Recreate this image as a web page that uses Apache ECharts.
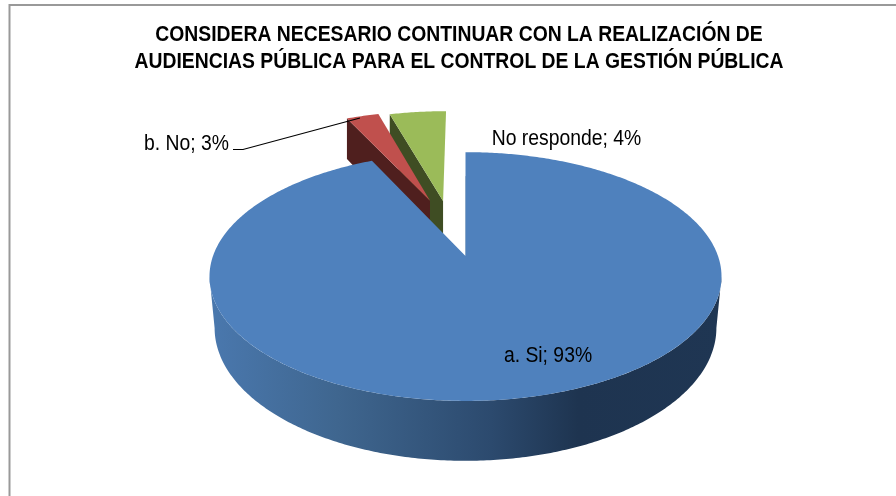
<!DOCTYPE html>
<html><head><meta charset="utf-8">
<style>html,body{margin:0;padding:0;background:#fff}#c{width:896px;height:496px}</style>
<script src="https://cdn.jsdelivr.net/npm/echarts@6/dist/echarts.min.js"></script>
</head><body><div id="c"></div>
<script>
const titleLines = ["CONSIDERA NECESARIO CONTINUAR CON LA REALIZACIÓN DE", "AUDIENCIAS PÚBLICA PARA EL CONTROL DE LA GESTIÓN PÚBLICA"];
const categories = ["a. Si", "b. No", "No responde"];
const values = [93, 2.55, 4.45];

const FONT = '"Liberation Sans",Arial,sans-serif';
// projection of the pie disc (unit circle) onto the screen, with perspective
const AX = 465.5, AY = 256, RX = 252.5, RY = 121, K = 0.165, DEPTH = 50;
const looks = [
  { top:'#4F81BD', wall:'#1F3552', off:[0,0], z:3, shrink:0.02,
    grad:[[0,'#4A78AE'],[0.25,'#3F668F'],[0.55,'#2C4A6E'],[0.72,'#1E3450'],[1,'#1F3653']],
    label:{x:548,y:356}},
  { top:'#C0504D', wall:'#4F1F1E', off:[-0.152,-0.494], z:2, shrink:0, label:{x:186.5,y:144}},
  { top:'#9BBB59', wall:'#3F4D23', off:[-0.096,-0.491], z:1, shrink:0, label:{x:566.5,y:139}}
];
function proj(u, v, low, shrink) {
  const w = 1 - K * v;
  const t = low ? 1 : 0;
  return [AX + RX * u * (1 - shrink * t) / w, AY + (RY * v + DEPTH * t) / w];
}
function rim(a0, a1, off, low, shrink) {
  const pts = [], n = Math.max(2, Math.ceil((a1 - a0) * 90));
  for (let i = 0; i <= n; i++) {
    const a = a0 + (a1 - a0) * i / n;
    pts.push(proj(off[0] + Math.sin(a), off[1] - Math.cos(a), low, shrink));
  }
  return pts;
}
const total = values.reduce((s, x) => s + x, 0);
function renderSlice(params, api) {
  const i = params.dataIndex, look = looks[i];
  let acc = 0;
  for (let j = 0; j < i; j++) acc += values[j];
  const v = api.value(0);
  const a0 = acc / total * 2 * Math.PI, a1 = (acc + v) / total * 2 * Math.PI;
  const off = look.off, sh = look.shrink;
  const apexT = proj(off[0], off[1], false, sh), apexB = proj(off[0], off[1], true, sh);
  const rT = rim(a0, a1, off, false, sh), rB = rim(a0, a1, off, true, sh);
  const children = [];
  if (i === 0) {
    // front of the cylinder wall: between the two points where the rim turns back
    const turn = Math.acos(K);               // angle from the horizontal axis
    const fa0 = Math.PI / 2 + (Math.PI / 2 - turn), fa1 = 2 * Math.PI - fa0;
    const fT = rim(fa0, fa1, off, false, sh), fB = rim(fa0, fa1, off, true, sh);
    children.push({ type:'polygon', z2:look.z,
      shape:{ points: fT.concat(fB.slice().reverse()) },
      style:{ fill:{ type:'linear', x:0, y:0, x2:1, y2:0,
        colorStops: look.grad.map(g => ({offset:g[0], color:g[1]})) } } });
  } else {
    // radial wall of the exploded slices
    children.push({ type:'polygon', z2:look.z,
      shape:{ points:[apexT, rT[0], rB[0], apexB] }, style:{ fill: look.wall } });
  }
  children.push({ type:'polygon', z2:look.z + 0.5,
    shape:{ points:[apexT].concat(rT) }, style:{ fill: look.top } });
  if (i === 0) {
    children.push({ type:'line', z2:look.z + 0.4,
      shape:{ x1:apexT[0], y1:apexT[1], x2:apexT[0], y2:rT[0][1] + 24 },
      style:{ stroke:'#6b7f96', lineWidth:0.6, opacity:0.7 } });
  }
  children.push({ type:'text', z2:10, x:look.label.x, y:look.label.y, scaleX:0.88, style:{
    text: categories[i] + '; ' + Math.round(v) + '%',
    fill:'#000', font:'22px ' + FONT, align:'center', verticalAlign:'middle' } });
  if (i === 1) {
    children.push({ type:'polyline', z2:10,
      shape:{ points:[[233,149.5],[243,149.5],[360,118]] },
      style:{ stroke:'#000', lineWidth:1.2, fill:null } });
  }
  return { type:'group', children };
}
const chart = echarts.init(document.getElementById('c'), null, {renderer:'canvas'});
chart.setOption({
  animation:false,
  backgroundColor:'#fff',
  graphic:[{ type:'rect', silent:true, z:0,
    shape:{ x:9.5, y:5, width:950, height:560 },
    style:{ fill:'none', stroke:'#999', lineWidth:2 } }
  ].concat(titleLines.map((t, i) => ({
    type:'text', silent:true, z:5, x:459, y:35.5 + 27 * i, scaleX:0.9,
    style:{ text:t, fill:'#000', font:'bold 21.5px ' + FONT, align:'center', verticalAlign:'middle' }
  }))),
  series:[{
    type:'custom', coordinateSystem:'none', silent:true,
    renderItem:renderSlice,
    data: values.map((v, i) => ({ name:categories[i], value:[v] }))
  }]
});
</script></body></html>
